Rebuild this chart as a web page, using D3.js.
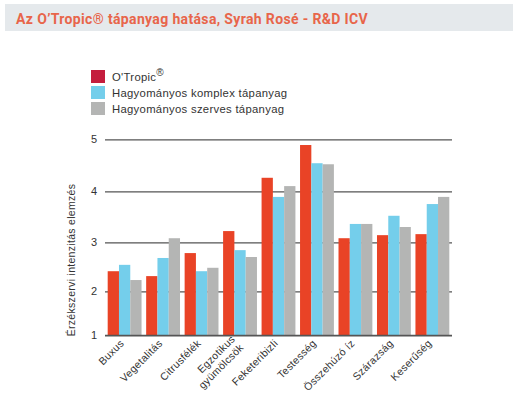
<!DOCTYPE html>
<html>
<head>
<meta charset="utf-8">
<script src="https://cdn.jsdelivr.net/npm/d3@7"></script>
<style>
  body { margin: 0; background: #fff; }
  svg { display: block; }
</style>
</head>
<body>
<div class="chart"></div>
<script>
var width = 519, height = 415;

var categories = ["Buxus", "Vegetalitás", "Citrusfélék", "Egzotikus\ngyümölcsök", "Feketeribizli",
                  "Testesség", "Összehúzó íz", "Szárazság", "Keserűség"];
var otropic  = [2.41, 2.31, 2.78, 3.22, 4.26, 4.89, 3.08, 3.14, 3.16];
var komplex  = [2.54, 2.68, 2.41, 2.84, 3.89, 4.54, 3.36, 3.52, 3.75];
var szerves  = [2.23, 3.08, 2.48, 2.70, 4.10, 4.52, 3.36, 3.30, 3.89];
var seriesNames = ["O'Tropic", "Hagyományos komplex tápanyag", "Hagyományos szerves tápanyag"];
var yTicks = [1, 2, 3, 4, 5];

var barColors = ["#e94326", "#74ceeb", "#b4b5b4"];
var legendColors = ["#c41d3d", "#74ceeb", "#b4b5b4"];

var svg = d3.select(".chart").append("svg")
    .attr("width", width)
    .attr("height", height);

// title bar
svg.append("rect")
    .attr("x", 5).attr("y", 4)
    .attr("width", 508).attr("height", 27)
    .attr("fill", "#e5e9ec");
svg.append("text")
    .attr("x", 16).attr("y", 23.5)
    .attr("font-family", "Roboto, sans-serif")
    .attr("font-weight", "bold")
    .attr("font-size", "14px")
    .attr("letter-spacing", "0.35px")
    .attr("fill", "#e8654a")
    .text("Az O’Tropic® tápanyag hatása, Syrah Rosé - R&D ICV");

// the reference axis is not evenly spaced, so map each tick to where it sits
var y = d3.scaleLinear()
    .domain(yTicks)
    .range([335.3, 291.3, 242.3, 191.3, 139.3]);

var x0 = d3.scaleBand()
    .domain(categories)
    .range([105, 452])
    .paddingInner(0.12)
    .paddingOuter(0.07);

var x1 = d3.scaleBand()
    .domain([0, 1, 2])
    .range([0, x0.bandwidth()]);

// grid lines
var yAxis = d3.axisLeft(y)
    .tickValues(yTicks)
    .tickSize(-(452 - 105))
    .tickPadding(8)
    .tickFormat(d3.format("d"));

var gy = svg.append("g")
    .attr("transform", "translate(105,0)")
    .call(yAxis);
gy.select(".domain").remove();
gy.selectAll(".tick line")
    .attr("stroke", "#555")
    .attr("stroke-width", 1.3);
gy.selectAll(".tick text")
    .attr("font-family", "Liberation Sans, Arial, sans-serif")
    .attr("font-size", "11px")
    .attr("fill", "#333");

// bars
var series = [otropic, komplex, szerves];
var groups = svg.append("g").selectAll("g")
    .data(categories)
    .enter().append("g")
    .attr("transform", function(d){ return "translate(" + x0(d) + ",0)"; });

groups.selectAll("rect")
    .data(function(d, i){ return series.map(function(s, k){ return {k: k, v: s[i]}; }); })
    .enter().append("rect")
    .attr("x", function(d){ return x1(d.k); })
    .attr("width", x1.bandwidth())
    .attr("y", function(d){ return y(d.v); })
    .attr("height", function(d){ return y(1) - y(d.v); })
    .attr("fill", function(d){ return barColors[d.k]; });

// baseline
svg.append("line")
    .attr("x1", 105).attr("x2", 452)
    .attr("y1", y(1)).attr("y2", y(1))
    .attr("stroke", "#555")
    .attr("stroke-width", 1.3);

// x labels, rotated
var labels = svg.append("g").selectAll("text")
    .data(categories)
    .enter().append("text")
    .attr("transform", function(d){
        return "translate(" + (x0(d) + x0.bandwidth() / 2) + ",344) rotate(-45)";
    })
    .attr("text-anchor", "end")
    .attr("font-family", "Liberation Sans, Arial, sans-serif")
    .attr("font-size", "10.5px")
    .attr("letter-spacing", "0.3px")
    .attr("fill", "#333");

labels.each(function(d){
    var lines = d.split("\n");
    var t = d3.select(this);
    lines.forEach(function(l, i){
        t.append("tspan")
            .attr("x", 0)
            .attr("dy", i == 0 ? (-(lines.length - 1) * 6) + "px" : "12px")
            .text(l);
    });
});

// y axis title
svg.append("text")
    .attr("transform", "translate(75,260) rotate(-90)")
    .attr("text-anchor", "middle")
    .attr("font-family", "Liberation Sans, Arial, sans-serif")
    .attr("font-size", "10.5px")
    .attr("letter-spacing", "0.3px")
    .attr("fill", "#333")
    .text("Érzékszervi intenzitás elemzés");

// legend
var legend = svg.append("g").selectAll("g")
    .data(seriesNames)
    .enter().append("g")
    .attr("transform", function(d, i){ return "translate(91," + (70 + i * 16) + ")"; });

legend.append("rect")
    .attr("width", 14).attr("height", 13)
    .attr("fill", function(d, i){ return legendColors[i]; });

var lt = legend.append("text")
    .attr("x", 21).attr("y", 11)
    .attr("font-family", "Liberation Sans, Arial, sans-serif")
    .attr("font-size", "11.3px")
    .attr("letter-spacing", "0.3px")
    .attr("fill", "#333")
    .text(function(d){ return d; });

lt.filter(function(d, i){ return i == 0; })
    .append("tspan")
    .attr("dy", "-5px")
    .attr("font-size", "10px")
    .text("®");
</script>
</body>
</html>
